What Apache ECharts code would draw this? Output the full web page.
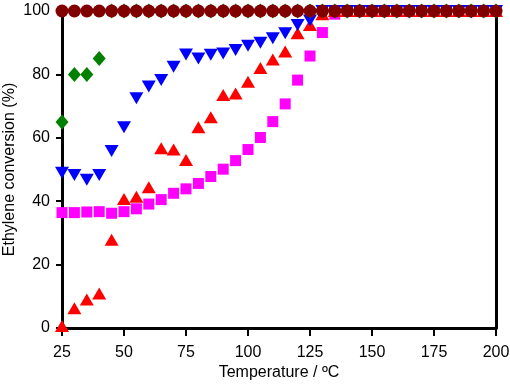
<!DOCTYPE html>
<html><head><meta charset="utf-8">
<script src="https://cdn.jsdelivr.net/npm/echarts@6/dist/echarts.min.js"></script>
<style>html,body{margin:0;padding:0;background:#fff}#c{width:510px;height:384px}</style>
</head><body><div id="c"></div>
<script>
var temps = [25,30,35,40,45,50,55,60,65,70,75,80,85,90,95,100,105,110,115,120,125,130,135,140,145,150,155,160,165,170,175,180,185,190,195,200];
var darkRedVals = [100,100,100,100,100,100,100,100,100,100,100,100,100,100,100,100,100,100,100,100,100,100,100,100,100,100,100,100,100,100,100,100,100,100,100,100];
var greenVals = [65,80,80,85,100,100,100,100,100,100,100,100,100,100,100,100,100,100,100,100,100,100,100,100,100,100,100,100,100,100,100,100,100,100,100,100];
var blueVals = [49,48.3,46.8,48.3,55.8,63.3,72.5,76.2,78.2,82.4,86.3,85,86.2,86.6,87.7,89,90,91.4,93,95.6,97,100,100,100,100,100,100,100,100,100,100,100,100,100,100,100];
var redVals = [0.6,6.2,9,10.9,27.8,40.7,41.4,44.4,56.7,56.3,53,63.3,66.5,73.5,74,77.7,82,84.7,87.2,93,95.6,99,100,100,100,100,100,100,100,100,100,100,100,100,100,100];
var magentaVals = [36.4,36.4,36.6,36.7,36.2,36.7,37.6,39.1,40.5,42.5,43.9,45.6,47.8,50.1,52.8,56.3,60.1,65.1,70.7,78.2,85.8,93.2,99,100,100,100,100,100,100,100,100,100,100,100,100,100];
var xTicks = [25,50,75,100,125,150,175,200];
var yTicks = [0,20,40,60,80,100];

function pts(v){ return temps.map(function(t,i){ return [t, v[i]]; }); }
var font = 'Liberation Sans, Arial, sans-serif';
var chart = echarts.init(document.getElementById('c'));
chart.setOption({
  animation:false,
  backgroundColor:'#fff',
  grid:{left:62,right:14,top:11,bottom:56,containLabel:false,outerBoundsMode:'none'},
  xAxis:{type:'value',min:xTicks[0],max:xTicks[xTicks.length-1],interval:25,
    name:'Temperature / ºC',nameLocation:'middle',nameGap:37,nameMoveOverlap:false,
    nameTextStyle:{fontFamily:font,fontSize:16,color:'#000'},
    axisLine:{lineStyle:{color:'#000',width:3}},
    axisTick:{show:true,length:8,lineStyle:{color:'#000',width:2}},
    axisLabel:{fontFamily:font,fontSize:16,color:'#000',margin:17},
    splitLine:{show:false}},
  yAxis:[{type:'value',min:yTicks[0],max:yTicks[yTicks.length-1],interval:20,
    name:'Ethylene conversion (%)',nameLocation:'middle',nameGap:44,nameMoveOverlap:false,
    nameTextStyle:{fontFamily:font,fontSize:16,color:'#000'},
    axisLine:{show:true,lineStyle:{color:'#000',width:3}},
    axisTick:{show:true,length:6,lineStyle:{color:'#000',width:2}},
    axisLabel:{fontFamily:font,fontSize:16,color:'#000',margin:12},
    splitLine:{show:false}},
   {type:'value',position:'right',min:0,max:100,interval:20,
    axisLine:{show:true,lineStyle:{color:'#000',width:3}},
    axisTick:{show:false},axisLabel:{show:false},splitLine:{show:false}}],
  series:[
    {type:'scatter',data:pts(magentaVals),symbol:'rect',symbolSize:11,itemStyle:{color:'#ff00ff',opacity:1},z:2},
    {type:'scatter',data:pts(redVals),symbol:'triangle',symbolSize:[14,12],itemStyle:{color:'#ff0000',opacity:1},z:3},
    {type:'scatter',data:pts(blueVals),symbol:'triangle',symbolRotate:180,symbolSize:[14,12],itemStyle:{color:'#0000ff',opacity:1},z:4},
    {type:'scatter',data:pts(greenVals),symbol:'diamond',symbolSize:[13,15],itemStyle:{color:'#008000',opacity:1},z:5},
    {type:'scatter',data:pts(darkRedVals),symbol:'circle',symbolSize:13,itemStyle:{color:'#800000',opacity:1},z:6}
  ]
});
</script></body></html>
